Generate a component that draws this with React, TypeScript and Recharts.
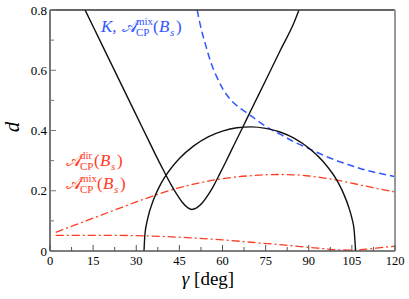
import React from 'react';
import { LineChart, Line, XAxis, YAxis } from 'recharts';

// gamma [deg] / d values
const vGamma = [12.2, 15, 20, 25, 30, 35, 38, 40, 42, 44, 46, 48, 49.3, 51, 53, 55, 57, 59, 61, 64, 67, 70, 75, 80, 85, 86.6];
const vD = [0.8, 0.745, 0.647, 0.549, 0.451, 0.353, 0.295, 0.258, 0.222, 0.19, 0.162, 0.143, 0.138, 0.143, 0.16, 0.186, 0.218, 0.255, 0.293, 0.352, 0.41, 0.469, 0.566, 0.664, 0.761, 0.8];

const arcGamma = [32.7, 33, 34, 36, 38, 40, 45, 50, 55, 60, 65, 70, 75, 80, 85, 90, 95, 100, 102, 104, 105, 105.8, 106.3];
const arcD = [0, 0.053, 0.108, 0.17, 0.213, 0.246, 0.307, 0.349, 0.379, 0.398, 0.409, 0.412, 0.407, 0.395, 0.374, 0.342, 0.297, 0.231, 0.193, 0.143, 0.109, 0.068, 0];

const mixKGamma = [51.2, 52, 53, 54, 56, 58, 60, 63, 66, 69, 72, 76, 80, 85, 90, 95, 100, 105, 110, 115, 120];
const mixKD = [0.8, 0.762, 0.722, 0.688, 0.625, 0.578, 0.54, 0.5, 0.475, 0.455, 0.434, 0.408, 0.388, 0.362, 0.34, 0.318, 0.299, 0.283, 0.268, 0.257, 0.247];

const mixGamma = [2, 5, 10, 15, 20, 25, 30, 35, 40, 45, 50, 55, 60, 65, 70, 75, 80, 85, 90, 95, 100, 105, 110, 115, 120];
const mixD = [0.062, 0.073, 0.091, 0.109, 0.127, 0.145, 0.163, 0.18, 0.196, 0.21, 0.222, 0.232, 0.24, 0.246, 0.25, 0.253, 0.254, 0.253, 0.249, 0.243, 0.235, 0.225, 0.215, 0.205, 0.196];

const dirGamma = [2, 10, 20, 30, 40, 50, 60, 70, 80, 90, 95, 100, 105, 110, 115, 120];
const dirD = [0.052, 0.052, 0.052, 0.051, 0.048, 0.043, 0.037, 0.029, 0.021, 0.012, 0.008, 0.004, 0.003, 0.006, 0.011, 0.016];

const xTicks = [0, 7.5, 15, 22.5, 30, 37.5, 45, 52.5, 60, 67.5, 75, 82.5, 90, 97.5, 105, 112.5, 120];
const yTicks = [0, 0.1, 0.2, 0.3, 0.4, 0.5, 0.6, 0.7, 0.8];

const zip = (g: number[], d: number[]) => g.map((x, i) => ({ g: x, d: d[i] }));

const SERIF = 'Liberation Serif';
const RED = '#ff3b1f';
const BLUE = '#3355ff';

const isMajorX = (v: number) => v % 15 === 0;
const isMajorY = (v: number) => Math.round(v * 10) % 2 === 0;

const BottomTick = ({ x, y, payload }: any) => {
  const v = payload.value;
  const major = isMajorX(v);
  return (
    <g>
      <line x1={x} y1={y} x2={x} y2={y - (major ? 6 : 4)} stroke="#555" strokeWidth={1} />
      {major && (
        <text x={x} y={y + 14} textAnchor="middle" fontFamily={SERIF} fontSize={12.5} fill="#000">
          {v}
        </text>
      )}
    </g>
  );
};

const TopTick = ({ x, y, payload }: any) => (
  <line x1={x} y1={y} x2={x} y2={y + (isMajorX(payload.value) ? 6 : 4)} stroke="#555" strokeWidth={1} />
);

const LeftTick = ({ x, y, payload }: any) => {
  const v = payload.value;
  const major = isMajorY(v);
  return (
    <g>
      <line x1={x} y1={y} x2={x + (major ? 6 : 4)} y2={y} stroke="#777" strokeWidth={1} />
      {major && (
        <text x={x - 3} y={y} dy="0.35em" textAnchor="end" fontFamily={SERIF} fontSize={13} fill="#000">
          {v === 0 ? '0' : v.toFixed(1)}
        </text>
      )}
    </g>
  );
};

const RightTick = ({ x, y, payload }: any) => (
  <line x1={x} y1={y} x2={x - (isMajorY(payload.value) ? 6 : 4)} y2={y} stroke="#888" strokeWidth={1} />
);

// A_CP^{sup}(B_s) drawn with stacked super/subscripts in one text element
const AcpLabel = ({ x, y, sup, color }: { x: number; y: number; sup: string; color: string }) => {
  const scriptX = x + 14;
  const after = scriptX + (sup === 'mix' ? 17 : 14);
  return (
    <text fill={color} fontFamily={SERIF} fontSize={17}>
      <tspan x={x} y={y}>𝒜</tspan>
      <tspan x={scriptX} y={y - 7} fontSize={11}>{sup}</tspan>
      <tspan x={scriptX} y={y + 4} fontSize={11}>CP</tspan>
      <tspan x={after} y={y}>(</tspan>
      <tspan x={after + 6} y={y} fontStyle="italic">B</tspan>
      <tspan x={after + 17} y={y + 4} fontSize={11} fontStyle="italic">s</tspan>
      <tspan x={after + 23} y={y}>)</tspan>
    </text>
  );
};

export default function App() {
  return (
    <div style={{ position: 'absolute', left: 0, top: 0, width: 409, height: 299, background: '#fff' }}>
      <LineChart width={409} height={299} margin={{ top: 9, right: 13, bottom: 0, left: 0 }}>
        <XAxis
          xAxisId="b"
          type="number"
          dataKey="g"
          domain={[0, 120]}
          ticks={xTicks}
          interval={0}
          height={48}
          tickSize={0}
          tickMargin={0}
          tickLine={false}
          tick={<BottomTick />}
          axisLine={{ stroke: '#555', strokeWidth: 1.5 }}
        />
        <XAxis
          xAxisId="t"
          orientation="top"
          type="number"
          dataKey="g"
          domain={[0, 120]}
          ticks={xTicks}
          interval={0}
          height={1}
          tickSize={0}
          tickMargin={0}
          tickLine={false}
          tick={<TopTick />}
          axisLine={{ stroke: '#333', strokeWidth: 1.5 }}
        />
        <YAxis
          yAxisId="l"
          type="number"
          domain={[0, 0.8]}
          allowDataOverflow
          ticks={yTicks}
          interval={0}
          width={50}
          tickSize={0}
          tickMargin={0}
          tickLine={false}
          tick={<LeftTick />}
          axisLine={{ stroke: '#777', strokeWidth: 2 }}
        />
        <YAxis
          yAxisId="r"
          orientation="right"
          type="number"
          domain={[0, 0.8]}
          ticks={yTicks}
          interval={0}
          width={1}
          tickSize={0}
          tickMargin={0}
          tickLine={false}
          tick={<RightTick />}
          axisLine={{ stroke: '#999', strokeWidth: 2 }}
        />
        <Line xAxisId="b" yAxisId="l" data={zip(dirGamma, dirD)} dataKey="d" type="monotone" stroke={RED} strokeWidth={1.3} strokeDasharray="8 3 2 3" dot={false} isAnimationActive={false} />
        <Line xAxisId="b" yAxisId="l" data={zip(mixGamma, mixD)} dataKey="d" type="monotone" stroke={RED} strokeWidth={1.3} strokeDasharray="8 3 2 3" dot={false} isAnimationActive={false} />
        <Line xAxisId="b" yAxisId="l" data={zip(mixKGamma, mixKD)} dataKey="d" type="monotone" stroke={BLUE} strokeWidth={1.5} strokeDasharray="7 4" dot={false} isAnimationActive={false} />
        <Line xAxisId="b" yAxisId="l" data={zip(arcGamma, arcD)} dataKey="d" type="monotone" stroke="#111" strokeWidth={1.4} dot={false} isAnimationActive={false} />
        <Line xAxisId="b" yAxisId="l" data={zip(vGamma, vD)} dataKey="d" type="monotone" stroke="#111" strokeWidth={1.4} dot={false} isAnimationActive={false} />
      </LineChart>
      <svg width={409} height={299} style={{ position: 'absolute', left: 0, top: 0, pointerEvents: 'none' }}>
        <text x={101} y={32} fontSize={17} fontStyle="italic" fontFamily={SERIF} fill={BLUE}>K,</text>
        <AcpLabel x={122} y={32} sup="mix" color={BLUE} />
        <AcpLabel x={66} y={166} sup="dir" color={RED} />
        <AcpLabel x={66} y={189} sup="mix" color={RED} />
        <text x={208} y={285} textAnchor="middle" fontSize={19} fontFamily={SERIF} fill="#000">
          <tspan fontStyle="italic">γ</tspan> [deg]
        </text>
        <text x={19} y={127} textAnchor="middle" fontSize={21} fontStyle="italic" fontFamily={SERIF} fill="#000" transform="rotate(-90 19 127)">
          d
        </text>
      </svg>
    </div>
  );
}
